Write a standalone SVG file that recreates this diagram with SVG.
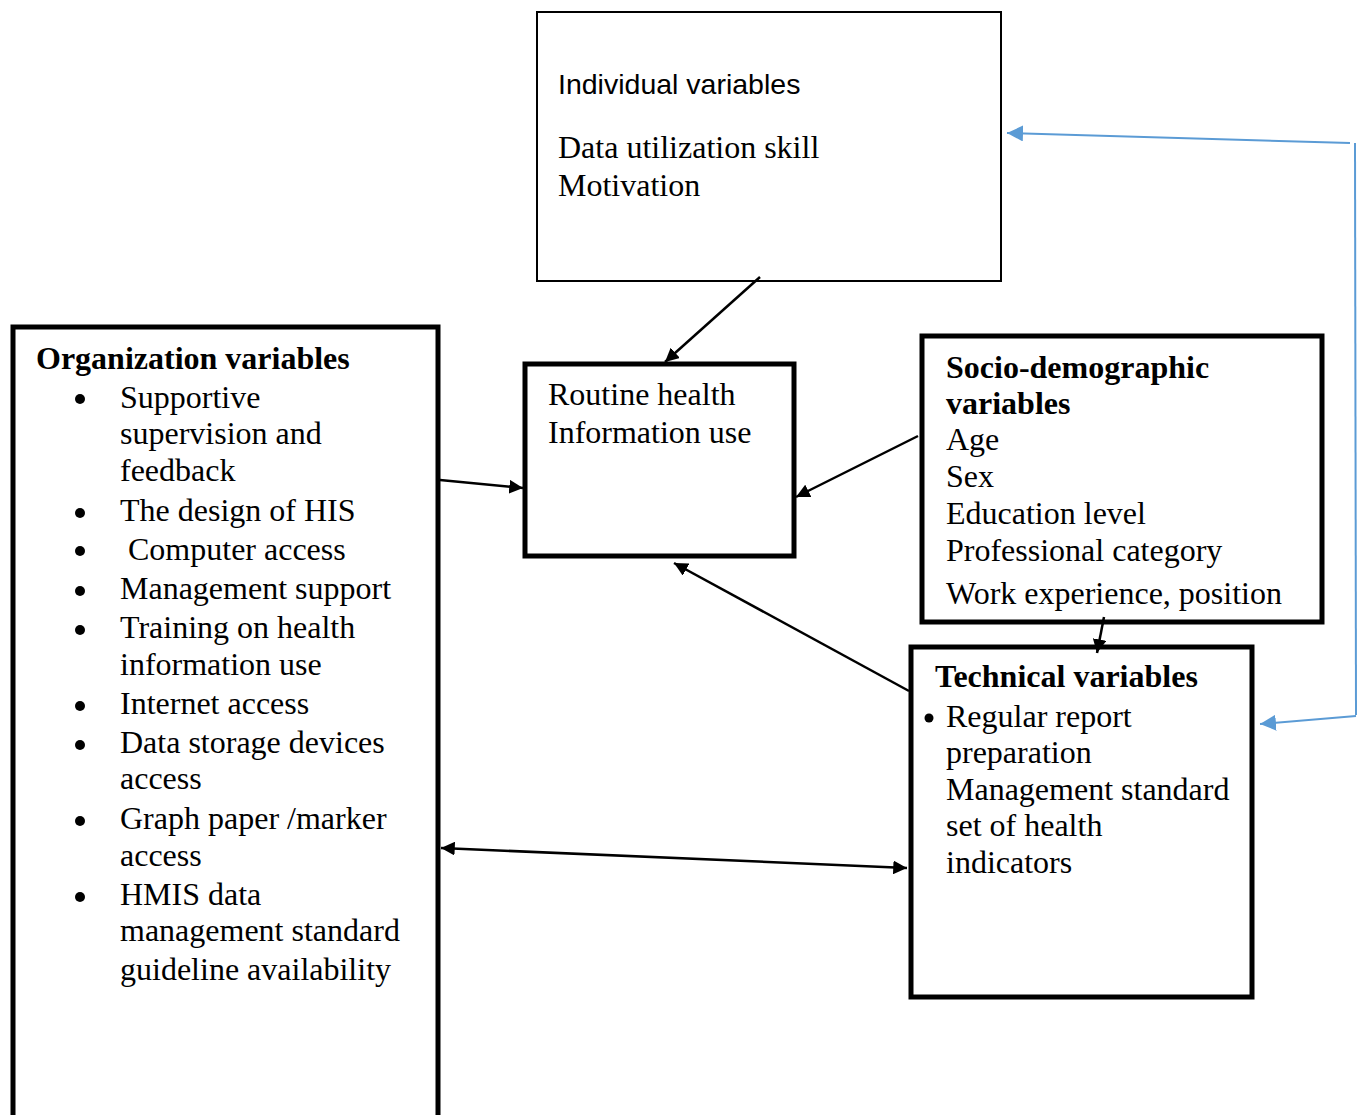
<svg xmlns="http://www.w3.org/2000/svg" width="1366" height="1115" viewBox="0 0 1366 1115">
<style>
.t{font-family:"Liberation Serif","Times New Roman",serif;font-size:32px;fill:#000}
.b{font-weight:bold}
.s{font-family:"Liberation Sans",Arial,sans-serif;font-size:28.5px;fill:#000}
.box{fill:#fff;stroke:#000;stroke-width:5}
.thin{fill:#fff;stroke:#000;stroke-width:2}
.c{stroke:#000;stroke-width:2.5;fill:none}
.blue{stroke:#5b9bd5;stroke-width:2;fill:none}
.dot{fill:#000}
</style>
<defs>
<marker id="ah" viewBox="0 0 10 10" refX="10" refY="5" markerWidth="5.5" markerHeight="5.5" orient="auto-start-reverse" markerUnits="strokeWidth"><path d="M0,0 L10,5 L0,10 z" fill="#000"/></marker>
<marker id="bh" viewBox="0 0 10 10" refX="10" refY="5" markerWidth="8" markerHeight="8" orient="auto" markerUnits="strokeWidth"><path d="M0,0 L10,5 L0,10 z" fill="#5b9bd5"/></marker>
</defs>
<g id="individual">
<rect class="thin" x="537" y="12" width="464" height="269"/>
<text class="s" x="558" y="94">Individual variables</text>
<text class="t" x="558" y="158">Data utilization skill</text>
<text class="t" x="558" y="196">Motivation</text>
</g>
<g id="organization">
<rect class="box" x="13" y="327" width="425" height="800"/>
<text class="t b" x="36" y="369">Organization variables</text>
<g class="dot">
<circle cx="80" cy="399" r="5"/><circle cx="80" cy="513" r="5"/><circle cx="80" cy="551" r="5"/>
<circle cx="80" cy="591" r="5"/><circle cx="80" cy="630" r="5"/><circle cx="80" cy="706" r="5"/>
<circle cx="80" cy="745" r="5"/><circle cx="80" cy="821" r="5"/><circle cx="80" cy="897" r="5"/>
</g>
<g class="t">
<text x="120" y="408">Supportive</text>
<text x="120" y="444">supervision and</text>
<text x="120" y="481">feedback</text>
<text x="120" y="521">The design of HIS</text>
<text x="128" y="560">Computer access</text>
<text x="120" y="599">Management support</text>
<text x="120" y="638">Training on health</text>
<text x="120" y="675">information use</text>
<text x="120" y="714">Internet access</text>
<text x="120" y="753">Data storage devices</text>
<text x="120" y="789">access</text>
<text x="120" y="829">Graph paper /marker</text>
<text x="120" y="866">access</text>
<text x="120" y="905">HMIS data</text>
<text x="120" y="941">management standard</text>
<text x="120" y="980">guideline availability</text>
</g>
</g>
<g id="routine">
<rect class="box" x="525" y="364" width="269" height="192"/>
<text class="t" x="548" y="405">Routine health</text>
<text class="t" x="548" y="443">Information use</text>
</g>
<g id="socio">
<rect class="box" x="922" y="336" width="400" height="286"/>
<text class="t b" x="946" y="378">Socio-demographic</text>
<text class="t b" x="946" y="414">variables</text>
<text class="t" x="946" y="450">Age</text>
<text class="t" x="946" y="487">Sex</text>
<text class="t" x="946" y="524">Education level</text>
<text class="t" x="946" y="561">Professional category</text>
<text class="t" x="946" y="604">Work experience, position</text>
</g>
<g id="technical">
<rect class="box" x="911" y="647" width="341" height="350"/>
<text class="t b" x="935" y="687">Technical variables</text>
<circle class="dot" cx="929" cy="718" r="4.5"/>
<text class="t" x="946" y="727">Regular report</text>
<text class="t" x="946" y="763">preparation</text>
<text class="t" x="946" y="800">Management standard</text>
<text class="t" x="946" y="836">set of health</text>
<text class="t" x="946" y="873">indicators</text>
</g>
<g id="connectors">
<line class="c" x1="760" y1="277" x2="665" y2="362" marker-end="url(#ah)"/>
<line class="c" x1="440" y1="480" x2="523" y2="488" marker-end="url(#ah)"/>
<line class="c" x1="918" y1="436" x2="796" y2="497" marker-end="url(#ah)"/>
<line class="c" x1="909" y1="691" x2="674" y2="563" marker-end="url(#ah)"/>
<line class="c" x1="441" y1="848" x2="907" y2="868" marker-start="url(#ah)" marker-end="url(#ah)"/>
<line class="c" x1="1104" y1="617" x2="1097" y2="653" marker-end="url(#ah)"/>
<polyline class="blue" points="1350,143 1007,133" marker-end="url(#bh)"/>
<line class="blue" x1="1355" y1="143" x2="1356" y2="715"/>
<polyline class="blue" points="1356,716 1260,724" marker-end="url(#bh)"/>
</g>
</svg>
